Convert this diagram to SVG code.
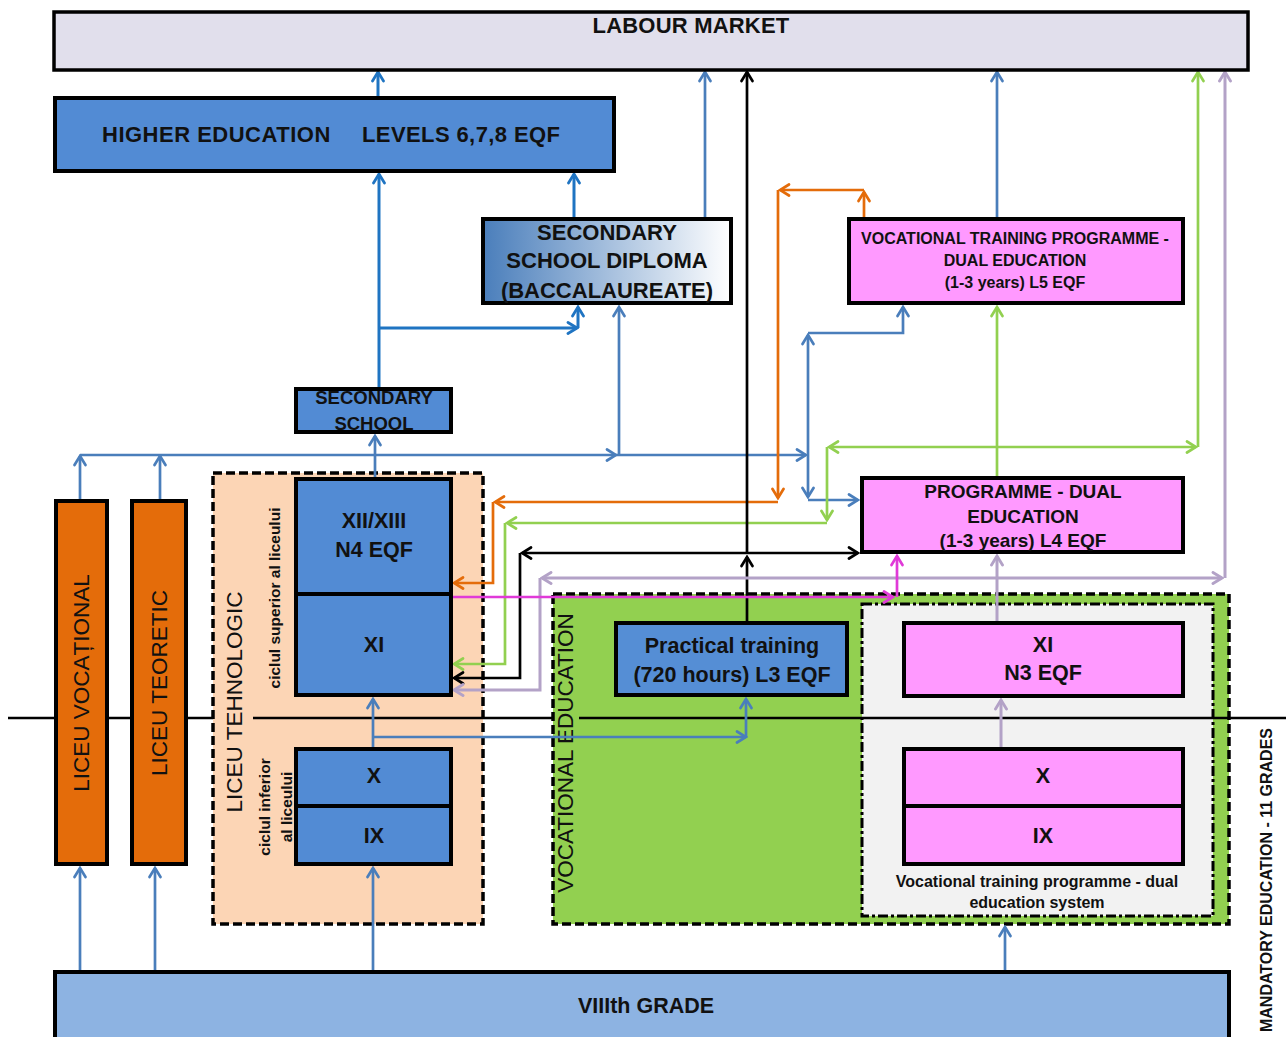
<svg xmlns="http://www.w3.org/2000/svg" width="1286" height="1037" viewBox="0 0 1286 1037">
  <style>
    text { font-family: "Liberation Sans", Arial, sans-serif; fill: #111; }
    .b { font-weight: bold; }
    .box { stroke: #000; stroke-width: 4; }
    .c { fill: none; stroke-linejoin: miter; }
    .db { stroke: #1f74c2; stroke-width: 3; }
    .lb { stroke: #4a7ebb; stroke-width: 2.7; }
    .or { stroke: #e46c0a; stroke-width: 2.7; }
    .gr { stroke: #92d050; stroke-width: 2.7; }
    .bk { stroke: #000; stroke-width: 2.7; }
    .lv { stroke: #b3a2c7; stroke-width: 3; }
    .mg { stroke: #e03ad8; stroke-width: 2.7; }
  </style>
  <defs>
    <linearGradient id="dipl" x1="0" y1="0" x2="1" y2="0">
      <stop offset="0" stop-color="#4a7ebb"/>
      <stop offset="1" stop-color="#ffffff"/>
    </linearGradient>
    <marker id="a-db" viewBox="0 0 14 14" refX="12" refY="7" markerWidth="14" markerHeight="14" orient="auto" markerUnits="userSpaceOnUse">
      <path d="M3,1.5 L12,7 L3,12.5" fill="none" stroke="#1f74c2" stroke-width="2.8" stroke-linecap="round"/>
    </marker>
    <marker id="a-lb" viewBox="0 0 14 14" refX="12" refY="7" markerWidth="14" markerHeight="14" orient="auto" markerUnits="userSpaceOnUse">
      <path d="M3,1.5 L12,7 L3,12.5" fill="none" stroke="#4a7ebb" stroke-width="2.7" stroke-linecap="round"/>
    </marker>
    <marker id="a-or" viewBox="0 0 14 14" refX="12" refY="7" markerWidth="14" markerHeight="14" orient="auto" markerUnits="userSpaceOnUse">
      <path d="M3,1.5 L12,7 L3,12.5" fill="none" stroke="#e46c0a" stroke-width="2.7" stroke-linecap="round"/>
    </marker>
    <marker id="a-gr" viewBox="0 0 14 14" refX="12" refY="7" markerWidth="14" markerHeight="14" orient="auto" markerUnits="userSpaceOnUse">
      <path d="M3,1.5 L12,7 L3,12.5" fill="none" stroke="#92d050" stroke-width="2.7" stroke-linecap="round"/>
    </marker>
    <marker id="a-bk" viewBox="0 0 14 14" refX="12" refY="7" markerWidth="14" markerHeight="14" orient="auto" markerUnits="userSpaceOnUse">
      <path d="M3,1.5 L12,7 L3,12.5" fill="none" stroke="#000" stroke-width="2.7" stroke-linecap="round"/>
    </marker>
    <marker id="a-lv" viewBox="0 0 14 14" refX="12" refY="7" markerWidth="14" markerHeight="14" orient="auto" markerUnits="userSpaceOnUse">
      <path d="M3,1.5 L12,7 L3,12.5" fill="none" stroke="#b3a2c7" stroke-width="2.9" stroke-linecap="round"/>
    </marker>
    <marker id="a-mg" viewBox="0 0 14 14" refX="12" refY="7" markerWidth="14" markerHeight="14" orient="auto" markerUnits="userSpaceOnUse">
      <path d="M3,1.5 L12,7 L3,12.5" fill="none" stroke="#e03ad8" stroke-width="2.7" stroke-linecap="round"/>
    </marker>
  </defs>

  <rect width="1286" height="1037" fill="#ffffff"/>

  <!-- background areas -->
  <g id="liceu-tehnologic">
    <rect x="213" y="473" width="270" height="451" fill="#fcd5b5" stroke="#000" stroke-width="3.5" stroke-dasharray="9,4"/>
    <text x="242" y="702" font-size="22.5" text-anchor="middle" transform="rotate(-90 242 702)">LICEU TEHNOLOGIC</text>
    <text class="b" x="280" y="598" font-size="15.5" text-anchor="middle" transform="rotate(-90 280 598)">ciclul superior al liceului</text>
    <text class="b" x="270" y="807" font-size="15.5" text-anchor="middle" transform="rotate(-90 270 807)">ciclul inferior</text>
    <text class="b" x="292" y="807" font-size="15.5" text-anchor="middle" transform="rotate(-90 292 807)">al liceului</text>
  </g>

  <g id="vocational-education">
    <rect x="553" y="594" width="676" height="330" fill="#92d050" stroke="#000" stroke-width="3.5" stroke-dasharray="9,4"/>
    <text x="573" y="753" font-size="22.5" text-anchor="middle" transform="rotate(-90 573 753)">VOCATIONAL EDUCATION</text>
  </g>

  <g id="dual-system">
    <rect x="862" y="604" width="351" height="312" fill="#f2f2f2" stroke="#000" stroke-width="3" stroke-dasharray="10,3,3,3"/>
    <text class="b" x="1037" y="887" font-size="16" text-anchor="middle">Vocational training programme - dual</text>
    <text class="b" x="1037" y="908" font-size="16" text-anchor="middle">education system</text>
  </g>

  <!-- divider between lower and upper cycle -->
  <g id="divider" stroke="#000" stroke-width="2.5">
    <line x1="8" y1="718" x2="54" y2="718"/>
    <line x1="108" y1="718" x2="131" y2="718"/>
    <line x1="187" y1="718" x2="213" y2="718"/>
    <line x1="253" y1="718" x2="553" y2="718"/>
    <line x1="579" y1="718" x2="1286" y2="718"/>
  </g>

  <g id="connectors" class="c">
    <!-- dark blue: towards higher education and the diploma -->
    <path class="c db" d="M378,96 V72" marker-end="url(#a-db)"/>
    <path class="c db" d="M379,387 V174" marker-end="url(#a-db)"/>
    <path class="c db" d="M379,328 H577" marker-end="url(#a-db)"/>
    <path class="c db" d="M578,328 V307" marker-end="url(#a-db)"/>
    <path class="c db" d="M574,217 V174" marker-end="url(#a-db)"/>

    <!-- light blue -->
    <path class="c lb" d="M705,217 V72" marker-end="url(#a-lb)"/>
    <path class="c lb" d="M997,217 V72" marker-end="url(#a-lb)"/>
    <path class="c lb" d="M375,477 V436" marker-end="url(#a-lb)"/>
    <path class="c lb" d="M80,499 V456" marker-end="url(#a-lb)"/>
    <path class="c lb" d="M160,499 V456" marker-end="url(#a-lb)"/>
    <path class="c lb" d="M80,455 H616" marker-end="url(#a-lb)"/>
    <path class="c lb" d="M616,455 H806" marker-end="url(#a-lb)"/>
    <path class="c lb" d="M619,455 V307" marker-end="url(#a-lb)"/>
    <path class="c lb" d="M808,415 V335" marker-end="url(#a-lb)"/>
    <path class="c lb" d="M808,415 V497" marker-end="url(#a-lb)"/>
    <path class="c lb" d="M808,500 H858" marker-end="url(#a-lb)"/>
    <path class="c lb" d="M808,333 H903 V307" marker-end="url(#a-lb)"/>
    <path class="c lb" d="M80,970 V868" marker-end="url(#a-lb)"/>
    <path class="c lb" d="M155,970 V868" marker-end="url(#a-lb)"/>
    <path class="c lb" d="M373,970 V868" marker-end="url(#a-lb)"/>
    <path class="c lb" d="M1005,970 V927" marker-end="url(#a-lb)"/>
    <path class="c lb" d="M373,747 V699" marker-end="url(#a-lb)"/>
    <path class="c lb" d="M373,737 H746" marker-end="url(#a-lb)"/>
    <path class="c lb" d="M746,737 V699" marker-end="url(#a-lb)"/>

    <!-- orange -->
    <path class="c or" d="M864,217 V192" marker-end="url(#a-or)"/>
    <path class="c or" d="M864,190 H780" marker-end="url(#a-or)"/>
    <path class="c or" d="M778,190 V498" marker-end="url(#a-or)"/>
    <path class="c or" d="M778,502 H495" marker-end="url(#a-or)"/>
    <path class="c or" d="M493,502 V583 H454" marker-end="url(#a-or)"/>

    <!-- green -->
    <path class="c gr" d="M997,476 V307" marker-end="url(#a-gr)"/>
    <path class="c gr" d="M997,447 H829" marker-end="url(#a-gr)"/>
    <path class="c gr" d="M997,447 H1196" marker-end="url(#a-gr)"/>
    <path class="c gr" d="M1198,447 V72" marker-end="url(#a-gr)"/>
    <path class="c gr" d="M827,447 V520" marker-end="url(#a-gr)"/>
    <path class="c gr" d="M827,523 H507" marker-end="url(#a-gr)"/>
    <path class="c gr" d="M505,523 V664 H454" marker-end="url(#a-gr)"/>

    <!-- black -->
    <path class="c bk" d="M747,621 V557" marker-end="url(#a-bk)"/>
    <path class="c bk" d="M747,553 V72" marker-end="url(#a-bk)"/>
    <path class="c bk" d="M747,553 H858" marker-end="url(#a-bk)"/>
    <path class="c bk" d="M747,553 H522" marker-end="url(#a-bk)"/>
    <path class="c bk" d="M520,553 V678 H454" marker-end="url(#a-bk)"/>

    <!-- lavender -->
    <path class="c lv" d="M997,578 H1222" marker-end="url(#a-lv)"/>
    <path class="c lv" d="M997,578 H542" marker-end="url(#a-lv)"/>
    <path class="c lv" d="M1225,578 V72" marker-end="url(#a-lv)"/>
    <path class="c lv" d="M540,578 V690 H454" marker-end="url(#a-lv)"/>
    <path class="c lv" d="M997,621 V556" marker-end="url(#a-lv)"/>
    <path class="c lv" d="M1001,747 V700" marker-end="url(#a-lv)"/>

    <!-- magenta -->
    <path class="c mg" d="M453,597 H893" marker-end="url(#a-mg)"/>
    <path class="c mg" d="M897,597 V556" marker-end="url(#a-mg)"/>
  </g>

  <!-- nodes -->
  <g id="labour-market">
    <rect x="54" y="12" width="1194" height="58" fill="#e1dfec" stroke="#000" stroke-width="3.5"/>
    <text class="b" x="691" y="33" font-size="22" letter-spacing="0.2" text-anchor="middle">LABOUR MARKET</text>
  </g>

  <g id="higher-education">
    <rect class="box" x="55" y="98" width="559" height="73" fill="#528bd4"/>
    <text class="b" x="102" y="142" font-size="22" letter-spacing="0.5">HIGHER EDUCATION</text>
    <text class="b" x="362" y="142" font-size="22" letter-spacing="0.4">LEVELS 6,7,8 EQF</text>
  </g>

  <g id="secondary-school-diploma">
    <rect class="box" x="483" y="219" width="248" height="84" fill="url(#dipl)"/>
    <text class="b" x="607" y="240" font-size="22" text-anchor="middle">SECONDARY</text>
    <text class="b" x="607" y="268" font-size="22" text-anchor="middle">SCHOOL DIPLOMA</text>
    <text class="b" x="607" y="298" font-size="22" text-anchor="middle">(BACCALAUREATE)</text>
  </g>

  <g id="vtp-l5">
    <rect class="box" x="849" y="219" width="334" height="84" fill="#ff99ff"/>
    <text class="b" x="1015" y="244" font-size="16" text-anchor="middle">VOCATIONAL TRAINING PROGRAMME -</text>
    <text class="b" x="1015" y="266" font-size="16" text-anchor="middle">DUAL EDUCATION</text>
    <text class="b" x="1015" y="288" font-size="16" text-anchor="middle">(1-3 years) L5 EQF</text>
  </g>

  <g id="secondary-school">
    <rect class="box" x="296" y="389" width="155" height="43" fill="#528bd4"/>
    <text class="b" x="374" y="404" font-size="18.5" text-anchor="middle">SECONDARY</text>
    <text class="b" x="374" y="430" font-size="18.5" text-anchor="middle">SCHOOL</text>
  </g>

  <g id="liceu-vocational">
    <rect class="box" x="56" y="501" width="51" height="363" fill="#e46c0a"/>
    <text x="89" y="683" font-size="22.5" text-anchor="middle" transform="rotate(-90 89 683)">LICEU VOCAȚIONAL</text>
  </g>

  <g id="liceu-teoretic">
    <rect class="box" x="132" y="501" width="54" height="363" fill="#e46c0a"/>
    <text x="167" y="683" font-size="22.5" text-anchor="middle" transform="rotate(-90 167 683)">LICEU TEORETIC</text>
  </g>

  <g id="grade-xii-xiii">
    <rect class="box" x="296" y="479" width="155" height="115" fill="#528bd4"/>
    <text class="b" x="374" y="528" font-size="21.5" text-anchor="middle">XII/XIII</text>
    <text class="b" x="374" y="557" font-size="21.5" text-anchor="middle">N4 EQF</text>
  </g>

  <g id="grade-xi">
    <rect class="box" x="296" y="594" width="155" height="101" fill="#528bd4"/>
    <text class="b" x="374" y="652" font-size="21.5" text-anchor="middle">XI</text>
  </g>

  <g id="grade-x">
    <rect class="box" x="296" y="749" width="155" height="57" fill="#528bd4"/>
    <text class="b" x="374" y="783" font-size="21.5" text-anchor="middle">X</text>
  </g>

  <g id="grade-ix">
    <rect class="box" x="296" y="806" width="155" height="58" fill="#528bd4"/>
    <text class="b" x="374" y="843" font-size="21.5" text-anchor="middle">IX</text>
  </g>

  <g id="programme-l4">
    <rect class="box" x="862" y="478" width="321" height="74" fill="#ff99ff"/>
    <text class="b" x="1023" y="498" font-size="19" text-anchor="middle">PROGRAMME - DUAL</text>
    <text class="b" x="1023" y="523" font-size="19" text-anchor="middle">EDUCATION</text>
    <text class="b" x="1023" y="547" font-size="19" text-anchor="middle">(1-3 years) L4 EQF</text>
  </g>

  <g id="practical-training">
    <rect class="box" x="616" y="623" width="231" height="72" fill="#558ed5"/>
    <text class="b" x="732" y="653" font-size="21.5" text-anchor="middle">Practical training</text>
    <text class="b" x="732" y="682" font-size="21.5" text-anchor="middle">(720 hours) L3 EQF</text>
  </g>

  <g id="dual-xi">
    <rect class="box" x="904" y="623" width="279" height="73" fill="#ff99ff"/>
    <text class="b" x="1043" y="652" font-size="21.5" text-anchor="middle">XI</text>
    <text class="b" x="1043" y="680" font-size="21.5" text-anchor="middle">N3 EQF</text>
  </g>

  <g id="dual-x">
    <rect class="box" x="904" y="749" width="279" height="57" fill="#ff99ff"/>
    <text class="b" x="1043" y="783" font-size="21.5" text-anchor="middle">X</text>
  </g>

  <g id="dual-ix">
    <rect class="box" x="904" y="806" width="279" height="58" fill="#ff99ff"/>
    <text class="b" x="1043" y="843" font-size="21.5" text-anchor="middle">IX</text>
  </g>

  <g id="viii-grade">
    <rect class="box" x="55" y="972" width="1174" height="80" fill="#8db3e2"/>
    <text class="b" x="646" y="1013" font-size="21.5" text-anchor="middle">VIIIth GRADE</text>
  </g>

  <g id="mandatory-label">
    <text class="b" x="1272" y="880" font-size="16" text-anchor="middle" transform="rotate(-90 1272 880)">MANDATORY EDUCATION - 11 GRADES</text>
  </g>
</svg>
